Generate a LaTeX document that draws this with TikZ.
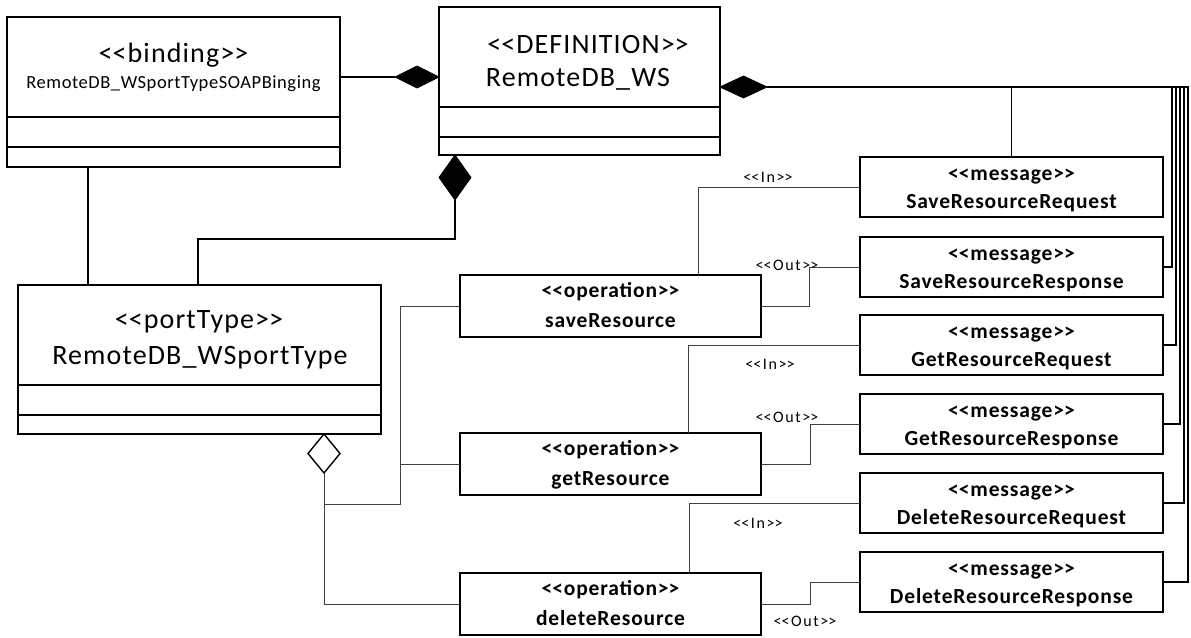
\documentclass[tikz,border=0pt]{standalone}
\usepackage{fontspec}
\setmainfont{Carlito}
\newfontfamily\bigfont[LetterSpace=4]{Carlito}
\newfontfamily\namefont[LetterSpace=3]{Carlito}
\newfontfamily\boxfont[LetterSpace=4]{Carlito}
\newfontfamily\tagfont[LetterSpace=10]{Carlito}
\usetikzlibrary{shapes.geometric,calc}
% guillemet-free stereotype brackets
\newcommand\sopen{<\kern0pt<}
\newcommand\sclose{>\kern0pt>}
\tikzset{
  classbox/.style={draw, line width=2.6pt, inner sep=0pt, outer sep=0pt},
  opbox/.style={draw, line width=2.2pt, inner sep=0pt, outer sep=0pt,
    minimum width=301, minimum height=62},
  msgbox/.style={draw, line width=2.2pt, inner sep=0pt, outer sep=0pt,
    minimum width=303, minimum height=60},
  compart/.style={line width=1.1pt},
  comp/.style={line width=1.5pt},
  bus/.style={line width=1.1pt},
  link/.style={line width=1pt, draw=black!75},
  filled/.style={diamond, draw, fill=black, line width=0.8pt, inner sep=0pt, outer sep=0pt},
  hollow/.style={diamond, draw, fill=white, line width=1.4pt, inner sep=0pt, outer sep=0pt},
  bigtext/.style={inner sep=0pt, font=\bigfont\fontsize{28}{30}\selectfont},
  midtext/.style={inner sep=0pt, font=\namefont\fontsize{18.5}{20}\selectfont},
  boldtext/.style={inner sep=0pt, font=\boxfont\fontsize{21.5}{23}\selectfont\bfseries},
  tag/.style={inner sep=0pt, font=\tagfont\fontsize{16}{17}\selectfont},
}
% operation box: name, top edge, operation name
\newcommand\opnode[3]{%
  \node[opbox, anchor=north] (#1) at (610.5,#2) {};
  \node[boldtext, anchor=base] (#1-st) at ($(#1.north)+(0,22)$) {\sopen operation\sclose};
  \node[boldtext, anchor=base] (#1-nm) at ($(#1.north)+(0,52)$) {#3};
}
% message box: name, top edge, message name
\newcommand\msgnode[3]{%
  \node[msgbox, anchor=north] (#1) at (1011.5,#2) {};
  \node[boldtext, anchor=base] (#1-st) at ($(#1.north)+(0,23)$) {\sopen message\sclose};
  \node[boldtext, anchor=base] (#1-nm) at ($(#1.north)+(0,51)$) {#3};
}
\begin{document}
\begin{tikzpicture}[x=1pt,y=-1pt]
\useasboundingbox[fill=white] (0,0) rectangle (1191,637);

% binding class
\node[classbox, minimum width=333, minimum height=150] (bind) at (173.5,92) {};
\draw[compart] ($(bind.north west)+(0,100)$) -- ($(bind.north east)+(0,100)$);
\draw[compart] ($(bind.north west)+(0,130)$) -- ($(bind.north east)+(0,130)$);
\node[bigtext, anchor=base] (bind-st) at (173.5,62) {\sopen binding\sclose};
\node[midtext, anchor=base] (bind-nm) at (173.5,88) {RemoteDB\_WSportTypeSOAPBinging};

% definition class
\node[classbox, minimum width=281, minimum height=148] (def) at (579.5,81) {};
\draw[compart] ($(def.north west)+(0,100)$) -- ($(def.north east)+(0,100)$);
\draw[compart] ($(def.north west)+(0,130)$) -- ($(def.north east)+(0,130)$);
\node[bigtext, anchor=base] (def-st) at (588,53) {\sopen DEFINITION\sclose};
\node[bigtext, anchor=base] (def-nm) at (578,86) {RemoteDB\_WS};

% portType class
\node[classbox, minimum width=363, minimum height=149] (port) at (199.5,359.5) {};
\draw[compart] ($(port.north west)+(0,100)$) -- ($(port.north east)+(0,100)$);
\draw[compart] ($(port.north west)+(0,130)$) -- ($(port.north east)+(0,130)$);
\node[bigtext, anchor=base] (port-st) at (199,328) {\sopen portType\sclose};
\node[bigtext, anchor=base] (port-nm) at (200,364) {RemoteDB\_WSportType};

% operations
\opnode{sop}{275}{saveResource}
\opnode{gop}{433}{getResource}
\opnode{dop}{573}{deleteResource}

% messages
\msgnode{sreq}{157}{SaveResourceRequest}
\msgnode{sresp}{237}{SaveResourceResponse}
\msgnode{greq}{315}{GetResourceRequest}
\msgnode{gresp}{394}{GetResourceResponse}
\msgnode{dreq}{473}{DeleteResourceRequest}
\msgnode{dresp}{552}{DeleteResourceResponse}

% composition diamonds on the definition
\node[filled, minimum width=44, minimum height=22, anchor=east] (dl) at ($(def.west)+(0,-4)$) {};
\node[filled, minimum width=47, minimum height=22, anchor=west] (dr) at ($(def.east)+(0,6)$) {};
\node[filled, minimum width=32, minimum height=45, anchor=north] (db) at ($(def.south)+(-124.5,0)$) {};
% aggregation diamond on the portType
\node[hollow, minimum width=32, minimum height=39, anchor=north] (da) at ($(port.south)+(124.5,0)$) {};

% binding -- definition
\draw[comp] (dl.west) -- (dl.west -| bind.east);
% binding -- portType
\coordinate (bt) at ($(bind.south)+(-85.5,0)$);
\draw[comp] (bt) -- (bt |- port.north);
% definition -- portType
\draw[comp] (db.south) -- ++(0,39) -| ($(port.north)+(-1.5,0)$);

% definition -- messages
\draw[comp] (dr.east) -| (sreq.north);
\draw[bus] (dr.east) -| ($(sresp.east)+(9,0)$) -- (sresp.east);
\draw[bus] (dr.east) -| ($(greq.east)+(13,0)$) -- (greq.east);
\draw[bus] (dr.east) -| ($(gresp.east)+(17,0)$) -- (gresp.east);
\draw[bus] (dr.east) -| ($(dreq.east)+(21,0)$) -- (dreq.east);
\draw[bus] (dr.east) -| ($(dresp.east)+(25,0)$) -- (dresp.east);

% portType -- operations
\coordinate (aj) at ($(da.south)+(0,31)$);
\coordinate (tr) at ($(aj)+(76,0)$);
\draw[link] (da.south) |- (dop.west);
\draw[link] (aj) -- (tr) |- (sop.west);
\draw[link] (tr |- gop.west) -- (gop.west);

% operations -- messages
\draw[link] ($(sop.north)+(87.5,0)$) |- (sreq.west);
\draw[link] (sop.east) -- ++(48,0) |- (sresp.west);
\draw[link] ($(gop.north)+(77.5,0)$) |- (greq.west);
\draw[link] (gop.east) -- ++(49,0) |- (gresp.west);
\draw[link] ($(dop.north)+(78.5,0)$) |- (dreq.west);
\draw[link] (dop.east) -- ++(49,0) |- (dresp.west);

% direction tags
\node[tag] (t1) at (768,177) {\sopen In\sclose};
\node[tag] (t2) at (787,265) {\sopen Out\sclose};
\node[tag] (t3) at (770,364) {\sopen In\sclose};
\node[tag] (t4) at (787,417) {\sopen Out\sclose};
\node[tag] (t5) at (758,523) {\sopen In\sclose};
\node[tag] (t6) at (805,621) {\sopen Out\sclose};
\end{tikzpicture}
\end{document}
